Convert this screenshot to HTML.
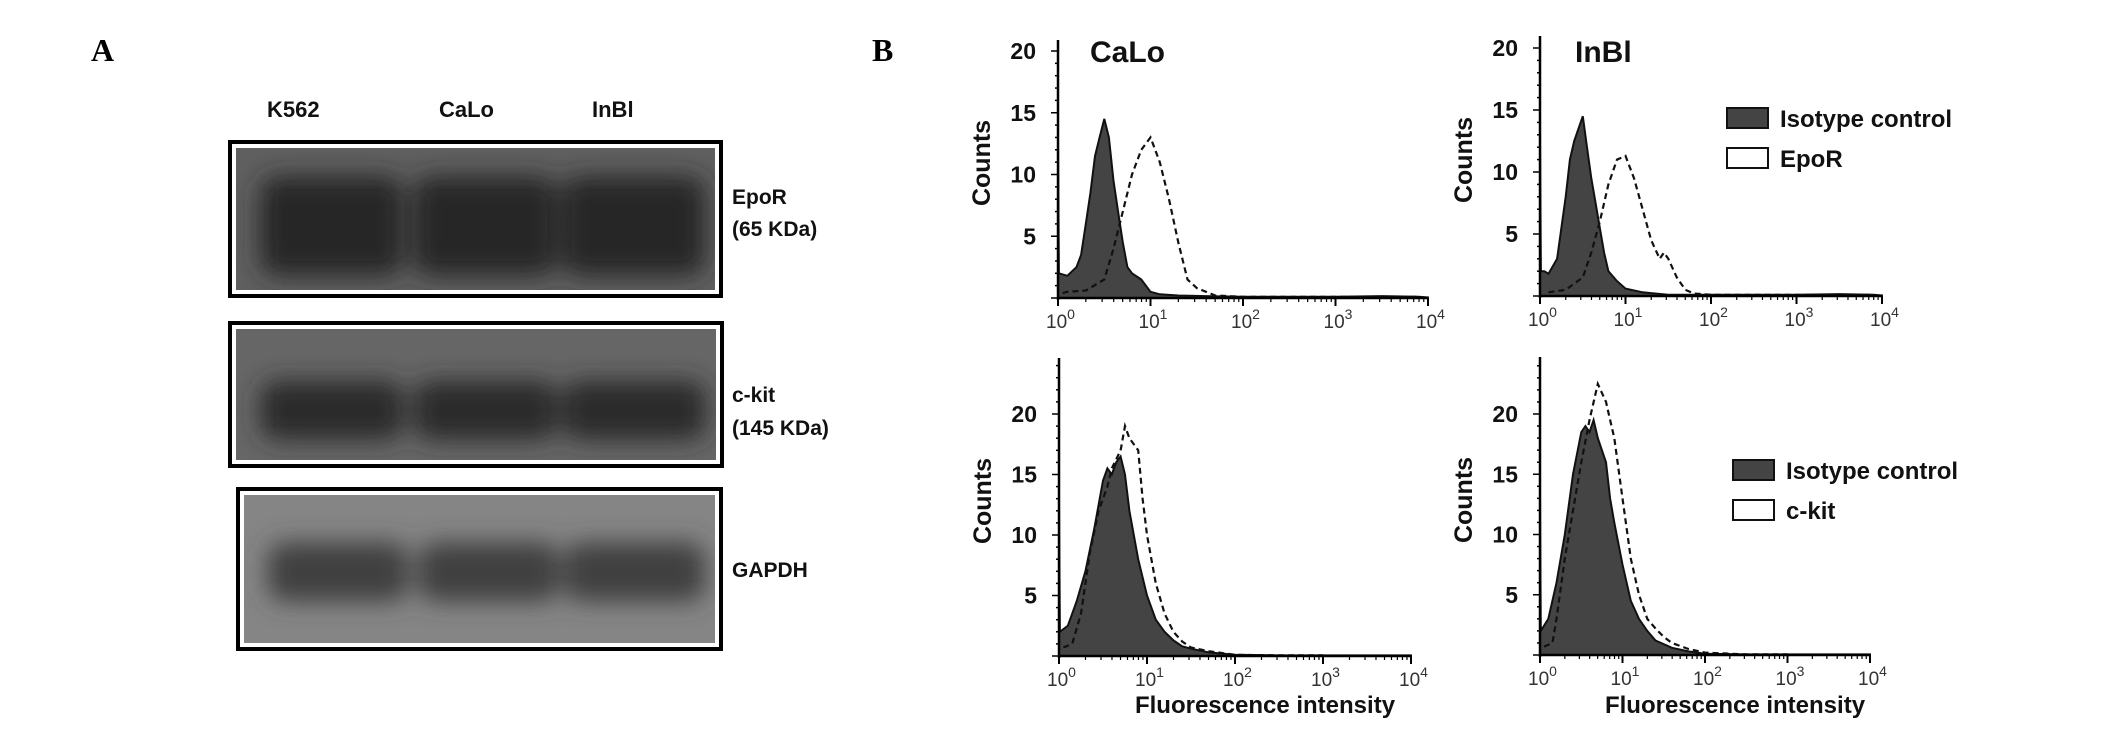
<!DOCTYPE html>
<html><head><meta charset="utf-8"><style>
html,body{margin:0;padding:0;background:#fff;}
svg{display:block;}
text{font-family:"Liberation Sans",Arial,sans-serif;}
</style></head><body>
<svg id="fig" width="2126" height="731" viewBox="0 0 2126 731">
<defs>
<filter id="blur6" x="-20%" y="-50%" width="140%" height="200%"><feGaussianBlur stdDeviation="12"/></filter>
</defs>
<text x="91" y="61" font-weight="bold" font-size="32" style="font-family:'Liberation Serif',serif">A</text>
<text x="872" y="61" font-weight="bold" font-size="32" style="font-family:'Liberation Serif',serif">B</text>
<g id="blots"></g>
<g id="charts"></g>
</svg>
<script>
// ---- Flow cytometry histogram data (x = log10 fluorescence, y = counts) ----
const caloEpoLogX   = [0,0.01,0.1,0.2,0.25,0.3,0.35,0.4,0.45,0.5,0.55,0.6,0.65,0.7,0.75,0.8,0.9,1.0,1.1,1.3,1.6,2.0,2.5,3.0,3.5,3.9];
const caloEpoIso    = [13,2,1.8,2.5,3.5,6,8.5,11.5,13,14.5,13,9.5,7,4.5,2.5,2,1.5,0.5,0.3,0.2,0.15,0.1,0.1,0.1,0.15,0.1];
const caloEpoRecX   = [0.05,0.1,0.3,0.5,0.6,0.7,0.8,0.9,1.0,1.1,1.2,1.3,1.4,1.5,1.6,1.7,2.0,2.5,3.0,3.5,3.9];
const caloEpoRec    = [0.4,0.5,0.6,1.5,4,7,10,12,13,11,8,4.5,1.5,0.8,0.5,0.2,0.1,0.1,0.1,0.1,0.1];

const inblEpoLogX   = [0,0.01,0.05,0.1,0.2,0.25,0.3,0.35,0.4,0.45,0.5,0.55,0.6,0.65,0.7,0.75,0.8,0.9,1.0,1.2,1.5,2.0,2.5,3.0,3.5,3.9];
const inblEpoIso    = [13,2,2,1.8,3,5.5,8,11,12.5,13.5,14.5,12,9.5,7.5,5.5,3.5,2,1.2,0.6,0.3,0.1,0.1,0.1,0.1,0.15,0.1];
const inblEpoRecX   = [0.1,0.3,0.5,0.6,0.7,0.8,0.9,1.0,1.1,1.2,1.3,1.4,1.45,1.5,1.6,1.7,1.8,2.0,2.5,3.0,3.5,3.9];
const inblEpoRec    = [0.3,0.5,1.5,3.5,6,9,11,11.3,9.5,7,4.5,3,3.5,3,1.5,0.5,0.2,0.1,0.1,0.1,0.1,0.1];

const caloKitLogX   = [0,0.01,0.1,0.2,0.3,0.4,0.5,0.55,0.6,0.65,0.7,0.75,0.8,0.9,1.0,1.1,1.2,1.3,1.4,1.5,1.7,2.0,2.5,3.0,3.5,3.9];
const caloKitIso    = [13,2,2.5,4.5,7,10.5,14.5,15.5,15,16,16.5,15,12,8,5,3,2,1.3,0.8,0.6,0.3,0.1,0.05,0.05,0.05,0.05];
const caloKitRecX   = [0.05,0.15,0.25,0.35,0.45,0.55,0.6,0.7,0.75,0.8,0.9,0.95,1.0,1.1,1.2,1.3,1.4,1.5,1.7,2.0,2.5,3.0];
const caloKitRec    = [0.7,1,3.5,8.5,12,14,15.5,17,19,18,17,13,10,6,3.5,2,1.2,0.7,0.4,0.1,0.05,0.05];

const inblKitLogX   = [0,0.01,0.1,0.2,0.3,0.4,0.5,0.55,0.6,0.65,0.7,0.8,0.85,0.9,1.0,1.1,1.2,1.3,1.4,1.6,1.8,2.0,2.5,3.0,3.5,3.9];
const inblKitIso    = [13,2,3,6,10,15,18.5,19,18.5,19.5,18,16,13,11,7.5,4.5,3,2,1.2,0.6,0.3,0.1,0.05,0.05,0.05,0.05];
const inblKitRecX   = [0.05,0.15,0.2,0.3,0.4,0.5,0.6,0.7,0.8,0.9,1.0,1.1,1.2,1.3,1.4,1.5,1.6,1.8,2.0,2.5,3.0];
const inblKitRec    = [0.7,1,3,8,12,16,19.5,22.5,21,18,13,8,5,3,2.2,1.5,1,0.5,0.2,0.05,0.05];

const yTickValues   = [5,10,15,20];
const xTickDecades  = [0,1,2,3,4];
const panelTitles   = ["CaLo","InBl"];

const NS="http://www.w3.org/2000/svg";
function mk(tag,attrs,parent){const e=document.createElementNS(NS,tag);for(const k in attrs)e.setAttribute(k,attrs[k]);if(parent)parent.appendChild(e);return e;}

const charts=document.getElementById('charts');
const panels=[
 {x0:1058,x4:1428,y0:298,y20:51,top:40,isoX:caloEpoLogX,iso:caloEpoIso,recX:caloEpoRecX,rec:caloEpoRec,title:panelTitles[0],tx:1090,legend:null,xlabel:false,name:'calo-epor'},
 {x0:1540,x4:1882,y0:296,y20:48,top:36,isoX:inblEpoLogX,iso:inblEpoIso,recX:inblEpoRecX,rec:inblEpoRec,title:panelTitles[1],tx:1575,legend:{x:1727,y:108,rec:'EpoR'},xlabel:false,name:'inbl-epor'},
 {x0:1059,x4:1411,y0:656,y20:414,top:358,isoX:caloKitLogX,iso:caloKitIso,recX:caloKitRecX,rec:caloKitRec,title:null,legend:null,xlabel:true,name:'calo-ckit'},
 {x0:1540,x4:1870,y0:655,y20:414,top:357,isoX:inblKitLogX,iso:inblKitIso,recX:inblKitRecX,rec:inblKitRec,title:null,legend:{x:1733,y:460,rec:'c-kit'},xlabel:true,name:'inbl-ckit'}
];

panels.forEach(p=>{
 const g=mk('g',{},charts);
 
 
 const sx=v=>p.x0+(p.x4-p.x0)*v/4;
 const sy=v=>p.y0-(p.y0-p.y20)*v/20;
 let d='M'+sx(p.isoX[0])+','+p.y0;
 p.isoX.forEach((v,i)=>{d+=' L'+sx(v).toFixed(1)+','+sy(p.iso[i]).toFixed(1);});
 d+=' L'+sx(4)+','+sy(0.05)+' L'+sx(4)+','+p.y0+' Z';
 const iso=mk('path',{d:d,fill:'#444',stroke:'#111','stroke-width':2},g);
 
 
 let d2='';
 p.recX.forEach((v,i)=>{d2+=(i?' L':'M')+sx(v).toFixed(1)+','+sy(p.rec[i]).toFixed(1);});
 const rec=mk('path',{d:d2,fill:'none',stroke:'#111','stroke-width':2.2,'stroke-dasharray':'6,4'},g);
 
 
 const ya=mk('line',{x1:p.x0,y1:p.top,x2:p.x0,y2:p.y0+2,stroke:'#000','stroke-width':2.5},g);
 
 
 const xa=mk('line',{x1:p.x0,y1:p.y0,x2:p.x4,y2:p.y0,stroke:'#000','stroke-width':2.5},g);
 
 
 for(let v=0;sy(v)>=p.top;v+=1){mk('line',{x1:p.x0-(v%5===0?7:3),y1:sy(v),x2:p.x0,y2:sy(v),stroke:'#000','stroke-width':1.5},g);}
 yTickValues.forEach(v=>{
  const t=mk('text',{x:p.x0-22,y:sy(v)+8,'text-anchor':'end','font-size':23,'font-weight':'bold',fill:'#111'},g);
  t.textContent=v;
  
  
 });
 xTickDecades.forEach(v=>{
  mk('line',{x1:sx(v),y1:p.y0,x2:sx(v),y2:p.y0+8,stroke:'#000','stroke-width':2},g);
  if(v<4)for(let k=2;k<10;k++){const lx=sx(v+Math.log10(k));mk('line',{x1:lx,y1:p.y0,x2:lx,y2:p.y0+4,stroke:'#000','stroke-width':1.2},g);}
  const t=mk('text',{x:sx(v)-12,y:p.y0+30,'font-size':19,fill:'#333'},g);
  t.textContent='10';
  
  
  const s=mk('tspan',{dy:-9,'font-size':14},t);s.textContent=v;
 });
 const cy=(p.top+p.y0)/2-6;
 const cl=mk('text',{x:0,y:0,'text-anchor':'middle','font-size':25,'font-weight':'bold',fill:'#111',transform:'translate('+(p.x0-68)+','+cy+') rotate(-90)'},g);
 cl.textContent='Counts';
 
 
 if(p.title){
  const tt=mk('text',{x:p.tx,y:62,'font-size':30,'font-weight':'bold',fill:'#111'},g);
  tt.textContent=p.title;
  
  
 }
 if(p.xlabel){
  const xl=mk('text',{x:(p.x0+p.x4)/2+30,y:713,'text-anchor':'middle','font-size':24,'font-weight':'bold',fill:'#111'},g);
  xl.textContent='Fluorescence intensity';
  
  
 }
 if(p.legend){
  const L=p.legend;
  const lg=mk('g',{},g);
  
  
  mk('rect',{x:L.x,y:L.y,width:41,height:20,fill:'#444',stroke:'#111','stroke-width':2},lg);
  const t1=mk('text',{x:L.x+53,y:L.y+19,'font-size':24,'font-weight':'bold',fill:'#111'},lg);t1.textContent='Isotype control';
  
  
  mk('rect',{x:L.x,y:L.y+40,width:41,height:20,fill:'#fff',stroke:'#111','stroke-width':2},lg);
  const t2=mk('text',{x:L.x+53,y:L.y+59,'font-size':24,'font-weight':'bold',fill:'#111'},lg);t2.textContent=L.rec;
  
  
 }
});

// ---- Western blots ----
const blots=document.getElementById('blots');
const laneNames=["K562","CaLo","InBl"];
const laneX=[267,439,592];
laneNames.forEach((n,i)=>{
 const t=mk('text',{x:laneX[i],y:117,'font-size':22,'font-weight':'bold',fill:'#111'},blots);
 t.textContent=n;
 
 
});
const blotDefs=[
 {x:230,y:142,w:491,h:154,bg:'#5f5f5f',band:'#252525',bandY:0.55,bandH:0.7,labels:[['EpoR',732,204],['(65 KDa)',732,236]],name:'epor-blot'},
 {x:230,y:323,w:492,h:143,bg:'#666',band:'#2a2a2a',bandY:0.62,bandH:0.45,labels:[['c-kit',732,402],['(145 KDa)',732,435]],name:'ckit-blot'},
 {x:238,y:489,w:483,h:160,bg:'#858585',band:'#404040',bandY:0.52,bandH:0.4,labels:[['GAPDH',732,577]],name:'gapdh-blot'}
];
const laneCenters=[0.2,0.52,0.83];
blotDefs.forEach(b=>{
 const g=mk('g',{},blots);
 
 
 mk('rect',{x:b.x,y:b.y,width:b.w,height:b.h,fill:'#fff',stroke:'#000','stroke-width':4},g);
 const ix=b.x+6,iy=b.y+6,iw=b.w-12,ih=b.h-12;
 mk('rect',{x:ix,y:iy,width:iw,height:ih,fill:b.bg},g);
 mk('clipPath',{id:'c'+b.name},g).appendChild(mk('rect',{x:ix,y:iy,width:iw,height:ih}));
 const cg=mk('g',{filter:'url(#blur6)'},g);
 cg.setAttribute('clip-path','url(#c'+b.name+')');
 laneCenters.forEach(c=>{
  mk('rect',{x:ix+iw*(c-0.15),y:iy+ih*(b.bandY-b.bandH/2),width:iw*0.3,height:ih*b.bandH,rx:18,fill:b.band},cg);
 });
 b.labels.forEach(l=>{
  const t=mk('text',{x:l[1],y:l[2],'font-size':21,'font-weight':'bold',fill:'#111'},g);
  t.textContent=l[0];
  
  
 });
});
</script>
</body></html>
